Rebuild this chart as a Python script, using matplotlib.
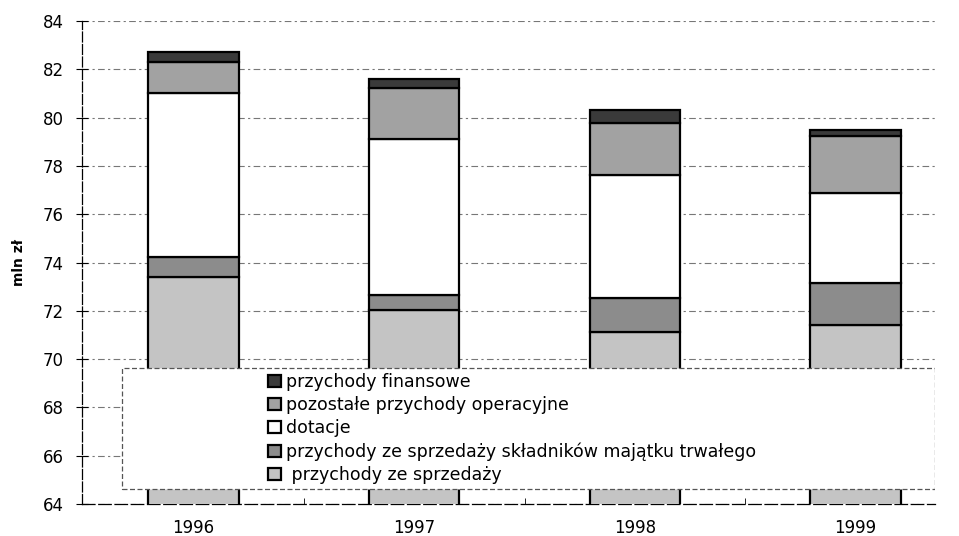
import matplotlib.pyplot as plt
import numpy as np
from matplotlib.patches import Rectangle

plt.rcParams['font.family'] = ['DejaVu Sans']

years = ['1996', '1997', '1998', '1999']
# mln zl, stacked from the bottom up
sprzedaz = [73.40, 72.03, 71.12, 71.41]
majatek = [0.83, 0.62, 1.41, 1.74]
dotacje = [6.79, 6.46, 5.09, 3.73]
pozostale = [1.28, 2.12, 2.16, 2.36]
finansowe = [0.42, 0.37, 0.53, 0.25]

series = [
    (' przychody ze sprzedaży', sprzedaz, '#c4c4c4'),
    ('przychody ze sprzedaży składników majątku trwałego', majatek, '#8c8c8c'),
    ('dotacje', dotacje, '#ffffff'),
    ('pozostałe przychody operacyjne', pozostale, '#a2a2a2'),
    ('przychody finansowe', finansowe, '#3a3a3a'),
]

fig = plt.figure(figsize=(9.59, 5.36), dpi=100)
ax = fig.add_axes([0.0855, 0.0597, 0.8895, 0.901])

x = np.arange(len(years))
bottom = np.zeros(len(years))
handles = []
for name, vals, col in series:
    b = ax.bar(x, vals, 0.41, bottom=bottom, color=col, edgecolor='black',
               linewidth=1.6, label=name, zorder=3)
    handles.append(b)
    bottom = bottom + np.array(vals)

ax.set_ylim(64, 84)
ax.set_xlim(-0.505, 3.36)
ax.set_yticks(np.arange(64, 85, 2))
ax.set_xticks(x)
ax.set_xticklabels(years)
ax.set_xticks([0.5, 1.5, 2.5], minor=True)
ax.tick_params(axis='x', which='major', length=0, pad=11, labelsize=12)
ax.tick_params(axis='x', which='minor', length=4, direction='in')
ax.tick_params(axis='y', length=8, direction='inout', labelsize=12, pad=9)

ax.yaxis.grid(True, linestyle=(0, (6, 3, 2, 3)), color='#777777', linewidth=0.8, zorder=0)
for s in ['top', 'right']:
    ax.spines[s].set_visible(False)
ax.spines['left'].set_linestyle((0, (8, 2)))
ax.spines['left'].set_linewidth(0.9)
ax.spines['bottom'].set_linestyle((0, (10, 3)))
ax.spines['bottom'].set_linewidth(0.9)

ax.set_ylabel('mln zł', fontsize=10, fontweight='bold', labelpad=12)

# legend box covering the lower part of the bars
box = Rectangle((0.047, 0.031), 0.953, 0.25, transform=ax.transAxes,
                facecolor='white', edgecolor='#555555', linestyle=(0, (4, 2)),
                linewidth=0.9, zorder=4)
ax.add_patch(box)
leg = ax.legend(handles[::-1], [h.get_label() for h in handles[::-1]],
                loc='upper left', bbox_to_anchor=(0.21, 0.286), frameon=False,
                fontsize=12.5, handlelength=0.72, handleheight=0.72, handletextpad=0.3,
                labelspacing=0.3, borderaxespad=0)
leg.set_zorder(5)

fig.savefig('out.png', dpi=100)
